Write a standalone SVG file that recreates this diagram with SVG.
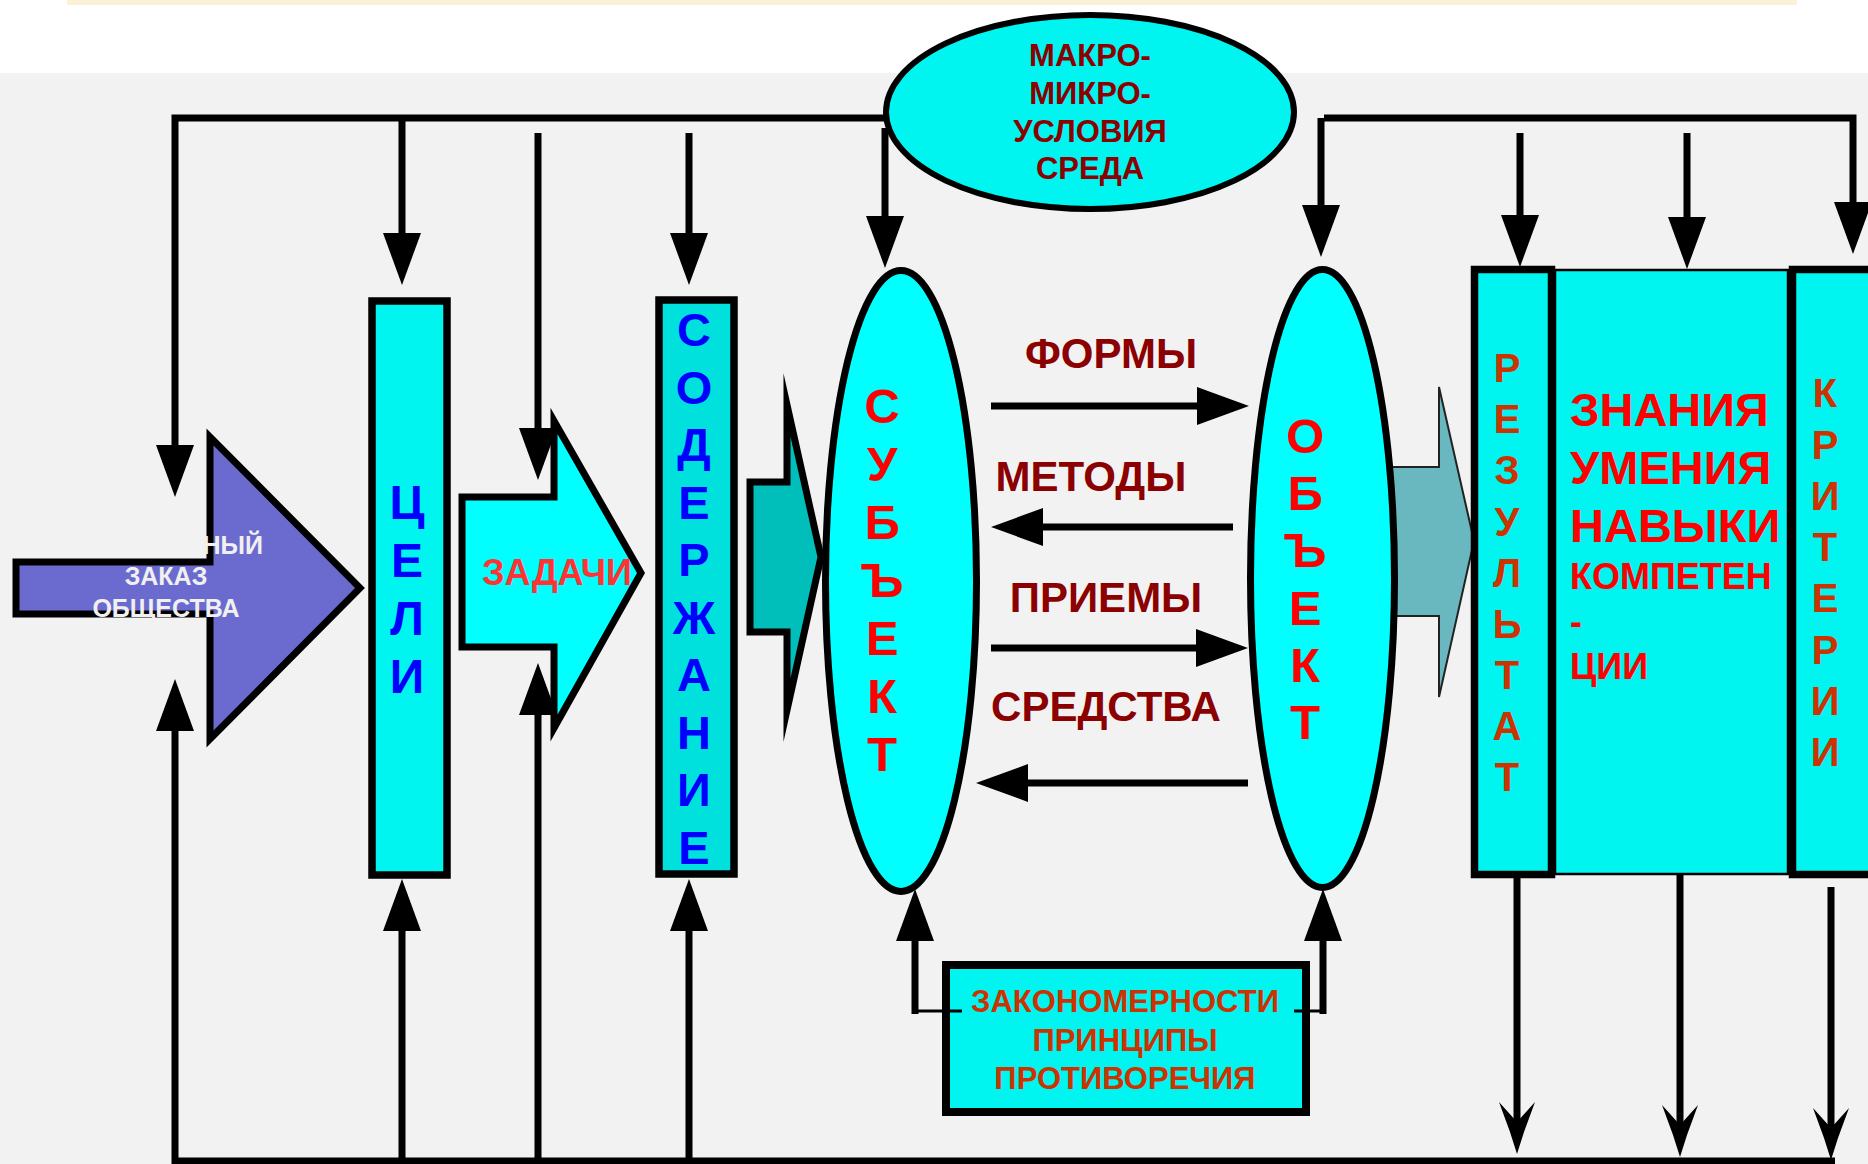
<svg xmlns="http://www.w3.org/2000/svg" width="1868" height="1164" viewBox="0 0 1868 1164">
<style>
.t{font-family:"Liberation Sans",Arial,sans-serif;font-weight:bold}
.ln{stroke:#000;stroke-width:7;fill:none}
.thin{stroke:#000;stroke-width:3;fill:none}
.box{stroke:#000;stroke-width:7.5}
.cy{fill:#00F5F0}
.cyb{fill:#00FFFF}
</style>
<defs>
<marker id="ah" markerUnits="userSpaceOnUse" markerWidth="52" markerHeight="38" refX="0" refY="19" orient="auto" viewBox="0 0 52 38"><path d="M0,0 L52,19 L0,38 Z" fill="#000"/></marker>
<path id="bh" d="M-18,0 L0,20 L18,0 L7,30 L0,52 L-7,30 Z" fill="#000"/>
</defs>
<rect width="1868" height="1164" fill="#FFFFFF"/>
<rect x="67" y="0" width="1730" height="5" fill="#FBF0D8"/>
<rect x="0" y="73" width="1868" height="1091" fill="#F2F2F2"/>

<g id="arrow-result">
<polygon points="1390,467 1439,467 1439,387 1474,541 1439,697 1439,616 1390,616" fill="#69B8BF" stroke="#222" stroke-width="2"/>
</g>

<g id="node-zakaz">
<polygon points="16,562 210,562 210,437 360,588 210,739 210,614 16,614" fill="#6B6BCF" stroke="#000" stroke-width="7"/>
<text class="t" font-size="25" fill="#F0F0F0" text-anchor="end" x="263" y="554">НЫЙ</text>
<text class="t" font-size="25" fill="#F0F0F0" text-anchor="middle"><tspan x="166" y="585">ЗАКАЗ</tspan><tspan x="166" y="617">ОБЩЕСТВА</tspan></text>
</g>

<g id="node-celi">
<rect x="372" y="301" width="75" height="574" class="box cy"/>
<text class="t" font-size="48" fill="#0000FF" text-anchor="middle"><tspan x="407" y="519">Ц</tspan><tspan x="407" y="577">Е</tspan><tspan x="407" y="635">Л</tspan><tspan x="407" y="693">И</tspan></text>
</g>

<g id="node-zadachi">
<polygon points="462,497 554,497 554,421 641,573 554,728 554,647 462,647" fill="#00FFFF" stroke="#000" stroke-width="7"/>
<text class="t" font-size="36" fill="#FF3333" text-anchor="middle" x="557" y="585">ЗАДАЧИ</text>
</g>

<g id="node-soderzhanie">
<rect x="659" y="300" width="75" height="574" class="box" fill="#00E0DC"/>
<text class="t" font-size="47" fill="#0000FF" text-anchor="middle"><tspan x="694" y="346">С</tspan><tspan x="694" y="403.5">О</tspan><tspan x="694" y="461">Д</tspan><tspan x="694" y="518.5">Е</tspan><tspan x="694" y="576">Р</tspan><tspan x="694" y="633.5">Ж</tspan><tspan x="694" y="691">А</tspan><tspan x="694" y="748.5">Н</tspan><tspan x="694" y="806">И</tspan><tspan x="694" y="863.5">Е</tspan></text>
</g>

<g id="arrow-teal">
<polygon points="750,482 787,482 787,405 821,557 787,710 787,632 750,632" fill="#00BFBB" stroke="#000" stroke-width="7" stroke-miterlimit="12"/>
</g>

<g id="node-subject">
<ellipse cx="901" cy="581" rx="75.5" ry="310.5" class="cyb" stroke="#000" stroke-width="7"/>
<text class="t" font-size="49" fill="#FF0000" text-anchor="middle"><tspan x="882" y="423">С</tspan><tspan x="882" y="481">У</tspan><tspan x="882" y="539">Б</tspan><tspan x="882" y="597">Ъ</tspan><tspan x="882" y="655">Е</tspan><tspan x="882" y="713">К</tspan><tspan x="882" y="771">Т</tspan></text>
</g>

<g id="node-object">
<ellipse cx="1322.5" cy="578.5" rx="72" ry="309" class="cyb" stroke="#000" stroke-width="7"/>
<text class="t" font-size="49" fill="#FF0000" text-anchor="middle"><tspan x="1305" y="453">О</tspan><tspan x="1305" y="510">Б</tspan><tspan x="1305" y="567">Ъ</tspan><tspan x="1305" y="625">Е</tspan><tspan x="1305" y="682">К</tspan><tspan x="1305" y="739">Т</tspan></text>
</g>

<g id="node-sreda">
<ellipse cx="1090" cy="112" rx="204" ry="97" class="cy" stroke="#000" stroke-width="6"/>
<text class="t" font-size="31" fill="#8B0000" text-anchor="middle"><tspan x="1090" y="66">МАКРО-</tspan><tspan x="1090" y="104">МИКРО-</tspan><tspan x="1090" y="142">УСЛОВИЯ</tspan><tspan x="1090" y="179">СРЕДА</tspan></text>
</g>

<g id="node-znaniya">
<rect x="1555" y="270" width="233" height="604" class="cy" stroke="#000" stroke-width="2.5"/>
<text class="t" font-size="47" fill="#FF0000"><tspan x="1570" y="426">ЗНАНИЯ</tspan><tspan x="1570" y="484">УМЕНИЯ</tspan><tspan x="1570" y="542">НАВЫКИ</tspan></text>
<text class="t" font-size="36" fill="#FF0000"><tspan x="1570" y="589">КОМПЕТЕН</tspan><tspan x="1570" y="634">-</tspan><tspan x="1570" y="679">ЦИИ</tspan></text>
</g>

<g id="node-rezultat">
<rect x="1474.5" y="269.5" width="77" height="605" class="box cy"/>
<text class="t" font-size="40" fill="#CC3300" text-anchor="middle"><tspan x="1507" y="382">Р</tspan><tspan x="1507" y="433">Е</tspan><tspan x="1507" y="484">З</tspan><tspan x="1507" y="536">У</tspan><tspan x="1507" y="587">Л</tspan><tspan x="1507" y="638">Ь</tspan><tspan x="1507" y="689">Т</tspan><tspan x="1507" y="740">А</tspan><tspan x="1507" y="791">Т</tspan></text>
</g>

<g id="node-kriterii">
<rect x="1792.5" y="269.5" width="85" height="605" class="box cy"/>
<text class="t" font-size="40" fill="#CC3300" text-anchor="middle"><tspan x="1825" y="407">К</tspan><tspan x="1825" y="459">Р</tspan><tspan x="1825" y="510">И</tspan><tspan x="1825" y="561">Т</tspan><tspan x="1825" y="612">Е</tspan><tspan x="1825" y="664">Р</tspan><tspan x="1825" y="715">И</tspan><tspan x="1825" y="766">И</tspan></text>
</g>

<g id="node-zakonomernosti">
<rect x="946" y="965" width="360" height="147" class="cy" stroke="#000" stroke-width="8"/>
<text class="t" font-size="31" fill="#CC3300" text-anchor="middle"><tspan x="1125" y="1012">ЗАКОНОМЕРНОСТИ</tspan><tspan x="1125" y="1051">ПРИНЦИПЫ</tspan><tspan x="1125" y="1089">ПРОТИВОРЕЧИЯ</tspan></text>
</g>

<g id="labels-middle" class="t" font-size="42" fill="#8B0000" text-anchor="middle">
<text x="1111" y="368">ФОРМЫ</text>
<text x="1091" y="491">МЕТОДЫ</text>
<text x="1106" y="612">ПРИЕМЫ</text>
<text x="1106" y="721">СРЕДСТВА</text>
</g>

<g id="connectors">
<path class="ln" d="M884,118 H175 V445" marker-end="url(#ah)"/>
<path class="ln" d="M402,118 V233" marker-end="url(#ah)"/>
<path class="ln" d="M538,133 V428" marker-end="url(#ah)"/>
<path class="ln" d="M689,133 V233" marker-end="url(#ah)"/>
<path class="ln" d="M885,128 V216" marker-end="url(#ah)"/>
<path class="ln" d="M1324,118 H1853 V202" marker-end="url(#ah)"/>
<path class="ln" d="M1321,118 V205" marker-end="url(#ah)"/>
<path class="ln" d="M1520,133 V215" marker-end="url(#ah)"/>
<path class="ln" d="M1687,133 V217" marker-end="url(#ah)"/>

<path class="ln" d="M1835,1161 H175 V731" marker-end="url(#ah)"/>
<path class="ln" d="M402,1161 V931" marker-end="url(#ah)"/>
<path class="ln" d="M538,1161 V715" marker-end="url(#ah)"/>
<path class="ln" d="M689,1161 V931" marker-end="url(#ah)"/>

<path class="thin" d="M915,1011 H962"/>
<path class="ln" d="M915,1014 V941" marker-end="url(#ah)"/>
<path class="thin" d="M1294,1011 H1323"/>
<path class="ln" d="M1323,1014 V941" marker-end="url(#ah)"/>

<path class="ln" stroke-width="8" d="M991,406 H1197" marker-end="url(#ah)"/>
<path class="ln" stroke-width="8" d="M1233,527 H1043" marker-end="url(#ah)"/>
<path class="ln" stroke-width="8" d="M991,648 H1196" marker-end="url(#ah)"/>
<path class="ln" stroke-width="8" d="M1248,783 H1028" marker-end="url(#ah)"/>

<path class="ln" d="M1517,878 V1126"/>
<use href="#bh" x="1517" y="1102"/>
<path class="ln" d="M1680,874 V1128"/>
<use href="#bh" x="1680" y="1105"/>
<path class="ln" d="M1831,887 V1140"/>
<use href="#bh" x="1831" y="1108"/>
</g>
</svg>
